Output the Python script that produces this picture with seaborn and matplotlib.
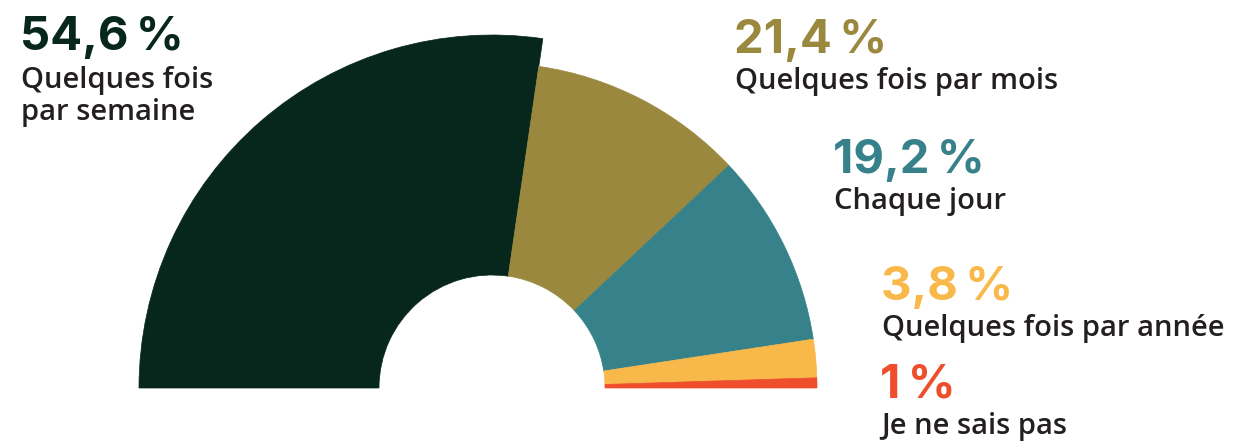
import numpy as np
import matplotlib
matplotlib.use('Agg')
import matplotlib.pyplot as plt
from matplotlib.patches import Wedge
import seaborn as sns

# Data
categories = ['Quelques fois\npar semaine', 'Quelques fois par mois', 'Chaque jour',
              'Quelques fois par année', 'Je ne sais pas']
values = [54.6, 21.4, 19.2, 3.8, 1.0]
value_labels = ['54,6\u2009%', '21,4\u2009%', '19,2\u2009%', '3,8\u2009%', '1\u2009%']
colors = ['#07271c', '#9a883e', '#37828a', '#f9b84a', '#ee4e2b']

sns.set_theme(style='white')
plt.rcParams['font.family'] = ['Open Sans', 'DejaVu Sans']

fig = plt.figure(figsize=(12.34, 4.43), dpi=100)
ax = fig.add_axes([0, 0, 1, 1])
ax.set_xlim(0, 1234)
ax.set_ylim(0, 443)
ax.set_aspect('equal')
ax.axis('off')

# half donut: 100 % spread over 180 degrees, clockwise from the left
cx, cy = 492, 55
r_in = 113
radii = [353, 325, 325, 325, 325]
cum = np.concatenate([[0], np.cumsum(values)])
total = cum[-1]
for i, v in enumerate(values):
    t1 = 180 - cum[i + 1] / total * 180
    t2 = 180 - cum[i] / total * 180
    ax.add_patch(Wedge((cx, cy), radii[i], t1, t2, width=radii[i] - r_in,
                       facecolor=colors[i], edgecolor=colors[i], linewidth=0.5))

# labels (x, baseline of number, top of text block)
label_pos = [(20, 50, 66), (734, 53, 67), (833, 173, 187), (881, 300, 314), (880, 398, 412)]
for i, (x, yn, yt) in enumerate(label_pos):
    ax.text(x, 443 - yn, value_labels[i], color=colors[i], fontsize=34,
            fontweight='bold', family=['Inter', 'DejaVu Sans'], va='baseline', ha='left')
    ax.text(x + 1, 443 - yt, categories[i], color='#231f20', fontsize=21,
            fontweight='semibold', va='top', ha='left', linespacing=1.12)

fig.savefig('out.png', dpi=100)
